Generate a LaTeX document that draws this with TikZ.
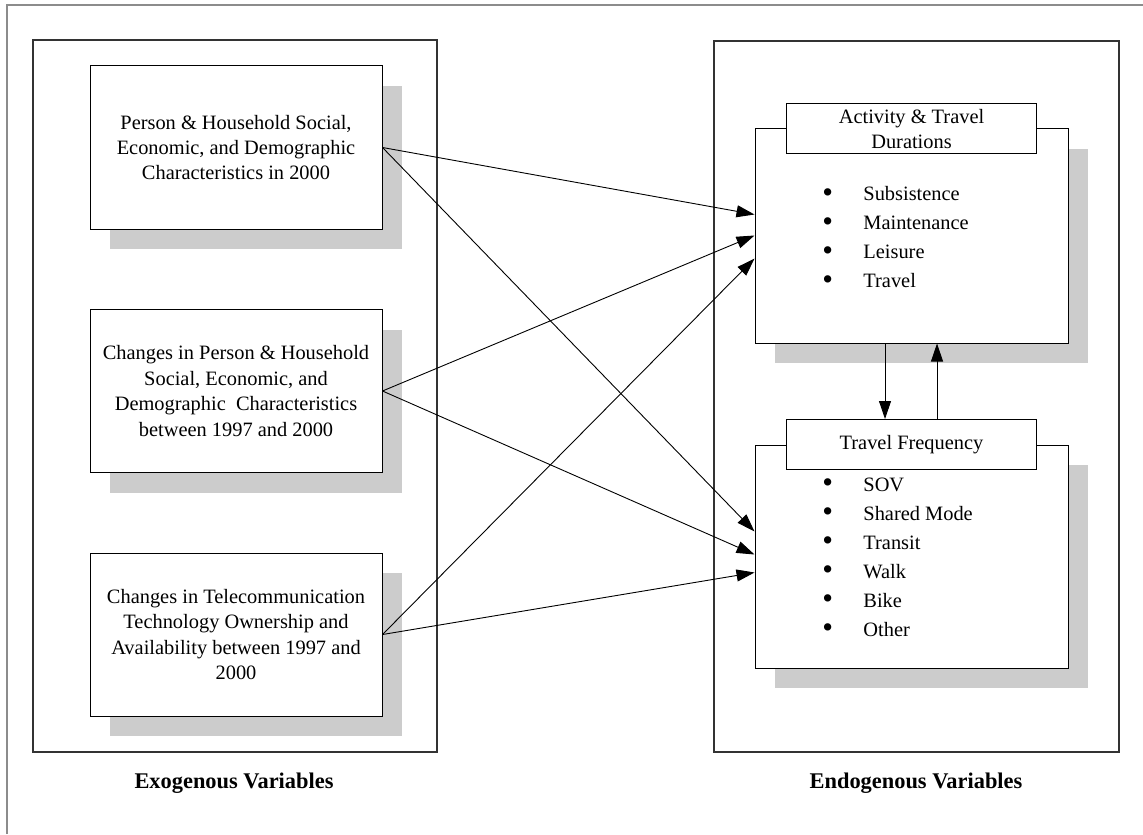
\documentclass[tikz,border=0pt]{standalone}
\usepackage{fontspec}
\usepackage{graphicx}
\setmainfont{Liberation Serif}
\usetikzlibrary{arrows.meta,shadows,calc}
\newcommand{\bul}{\makebox[20.5pt][l]{\smash{\raisebox{-0.9pt}{\scalebox{1.5}{\textbullet}}}}}
\begin{document}
\begin{tikzpicture}[x=0.5pt,y=-0.5pt,
  frame/.style={draw=black!45, line width=1pt},
  panel/.style={draw=black!80, line width=0.6pt},
  shad/.style={drop shadow={shadow xshift=10pt,shadow yshift=-10pt,fill=black!20,opacity=1}},
  exobox/.style={shad, draw=black, line width=0.5pt, fill=white, minimum width=146pt, minimum height=81.5pt, inner sep=0pt, align=center, font=\fontsize{10.2}{12.7}\selectfont},
  endobox/.style={shad, draw=black, line width=0.5pt, fill=white, minimum width=156.5pt, inner sep=0pt},
  titlebox/.style={draw=black, line width=0.5pt, fill=white, minimum width=125pt, minimum height=25pt, inner sep=0pt, align=center, font=\fontsize{10.2}{12.7}\selectfont},
  listtext/.style={anchor=west, inner sep=0pt, align=left, font=\fontsize{10.2}{14.5}\selectfont},
  grouplabel/.style={font=\fontsize{11.2}{13}\selectfont\bfseries, inner sep=0pt},
  arr/.style={draw=black, line width=0.45pt, -{Triangle[length=9pt,width=6pt]}}
]
\useasboundingbox (0,0) rectangle (1143,834);
\fill[white] (0,0) rectangle (1143,834);
\draw[frame] (7,834) -- (7,5) -- (1143,5);
\draw[panel] (33,40) rectangle (437,752);
\draw[panel] (714,41) rectangle (1119,752);

\node[exobox] (b1) at (236,147.5) {Person \& Household Social,\\Economic, and Demographic\\Characteristics in 2000};
\node[exobox] (b2) at (236,391) {Changes in Person \& Household\\Social, Economic, and\\Demographic\enspace Characteristics\\between 1997 and 2000};
\node[exobox] (b3) at (236,634.5) {Changes in Telecommunication\\Technology Ownership and\\Availability between 1997 and\\2000};

\node[endobox, minimum height=107pt] (ad) at (911.5,236) {};
\node[endobox, minimum height=111.5pt] (tf) at (911.5,556.5) {};
\node[titlebox] (adt) at (911.5,129) {Activity \& Travel\\Durations};
\node[titlebox] (tft) at (911.5,444.5) {Travel Frequency};

\node[listtext] (adl) at (822,237) {\bul Subsistence\\\bul Maintenance\\\bul Leisure\\\bul Travel};
\node[listtext] (tfl) at (822,557) {\bul SOV\\\bul Shared Mode\\\bul Transit\\\bul Walk\\\bul Bike\\\bul Other};

\node[grouplabel] (exo) at (234,783) {Exogenous Variables};
\node[grouplabel] (endo) at (916,783) {Endogenous Variables};

\coordinate (a1) at ($(ad.north west)+(0,86)$);
\coordinate (a2) at ($(ad.north west)+(0,107)$);
\coordinate (a3) at ($(ad.north west)+(0,130)$);
\coordinate (f1) at ($(tf.north west)+(0,87)$);
\coordinate (f2) at ($(tf.north west)+(0,110)$);
\coordinate (f3) at ($(tf.north west)+(0,128)$);

\draw[arr] (b1.east) -- (a1);
\draw[arr] (b1.east) -- (f1);
\draw[arr] (b2.east) -- (a2);
\draw[arr] (b2.east) -- (f2);
\draw[arr] (b3.east) -- (a3);
\draw[arr] (b3.east) -- (f3);

\draw[arr] ($(ad.south)+(-26.5,0)$) -- ($(tft.north)+(-26.5,0)$);
\draw[arr] ($(tft.north)+(25.5,0)$) -- ($(ad.south)+(25.5,0)$);
\end{tikzpicture}
\end{document}
